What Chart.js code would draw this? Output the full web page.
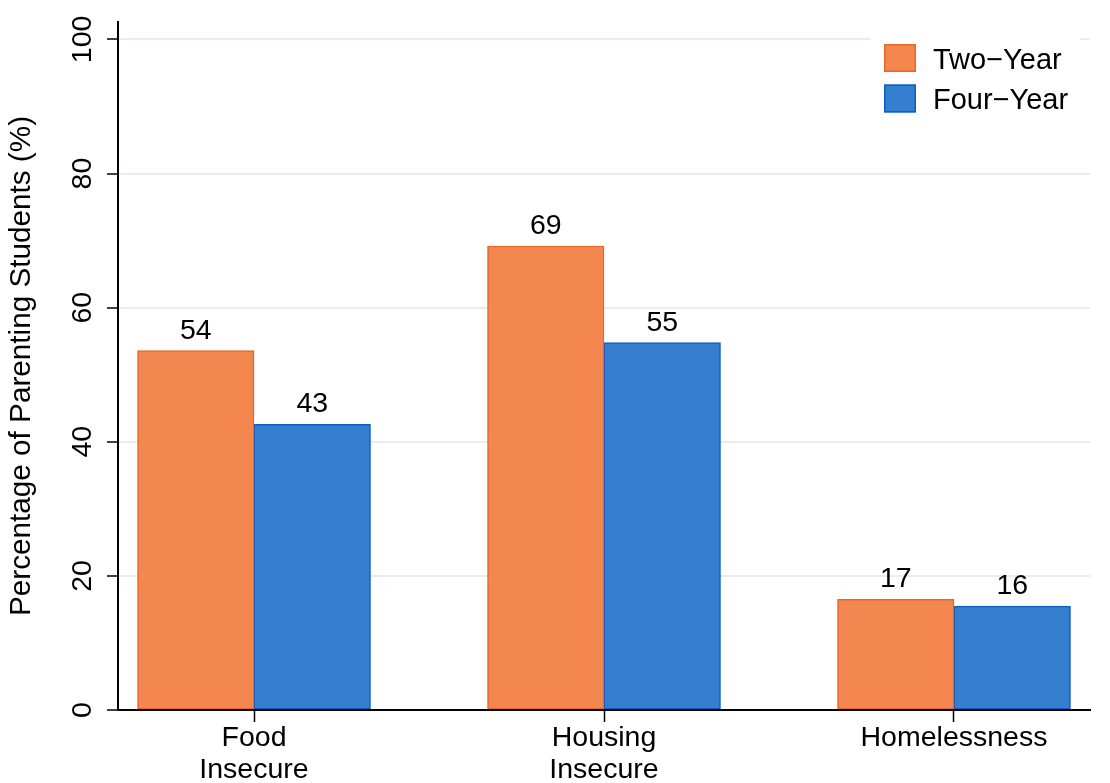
<!DOCTYPE html>
<html><head><meta charset="utf-8">
<script src="https://cdn.jsdelivr.net/npm/chart.js@4"></script>
<style>html,body{margin:0;padding:0;background:#fff}canvas{display:block}</style>
</head><body>
<canvas id="c" width="1110" height="783"></canvas>
<script>
const categories = [["Food", "Insecure"], ["Housing", "Insecure"], "Homelessness"];
const seriesNames = ["Two\u2212Year", "Four\u2212Year"];
const twoYear = [53.6, 69.2, 16.5];
const fourYear = [42.6, 54.8, 15.5];
const yTickValues = [0, 20, 40, 60, 80, 100];
const yTitle = "Percentage of Parenting Students (%)";

const FONT = '"Liberation Sans", Arial, Helvetica, sans-serif';
const orangeFill = '#f3874f', orangeLine = '#ec6525';
const blueFill = '#347fcf', blueLine = '#0d5ec4';
const gridColor = '#e4eef1';

const toXY = arr => arr.map((v, i) => ({x: i + 1, y: v}));

const yLabelPlugin = {
  id: 'yLabels',
  afterDraw(chart) {
    const s = chart.scales.y, ctx = chart.ctx;
    ctx.save();
    ctx.font = '28.5px ' + FONT;
    ctx.fillStyle = '#000';
    ctx.textAlign = 'center';
    ctx.textBaseline = 'alphabetic';
    s.ticks.forEach(t => {
      const py = s.getPixelForValue(t.value);
      ctx.save();
      ctx.translate(s.right - 27, py);
      ctx.rotate(-Math.PI / 2);
      ctx.fillText(String(t.value), 0, 0);
      ctx.restore();
    });
    ctx.restore();
  }
};

const valueLabelPlugin = {
  id: 'valueLabels',
  afterDatasetsDraw(chart) {
    const ctx = chart.ctx;
    ctx.save();
    ctx.font = '28.5px ' + FONT;
    ctx.fillStyle = '#000';
    ctx.textAlign = 'center';
    ctx.textBaseline = 'alphabetic';
    chart.data.datasets.forEach((ds, di) => {
      chart.getDatasetMeta(di).data.forEach((el, i) => {
        ctx.fillText(String(Math.round(ds.data[i].y)), el.x, el.y - 12);
      });
    });
    ctx.restore();
  }
};

const legendPlugin = {
  id: 'boxLegend',
  afterDraw(chart) {
    const ctx = chart.ctx, a = chart.chartArea;
    const bx = a.right - 219, by = a.top + 8, bw = 209, bh = 100;
    ctx.save();
    ctx.fillStyle = '#fff';
    ctx.fillRect(bx, by, bw, bh);
    ctx.font = '29px ' + FONT;
    ctx.textAlign = 'left';
    ctx.textBaseline = 'alphabetic';
    chart.data.datasets.forEach((ds, i) => {
      const sy = a.top + 22 + i * 40.5;
      ctx.fillStyle = ds.backgroundColor;
      ctx.fillRect(bx + 13, sy, 32, 28);
      ctx.strokeStyle = ds.borderColor;
      ctx.lineWidth = 1.5;
      ctx.strokeRect(bx + 13.75, sy + 0.75, 30.5, 26.5);
      ctx.fillStyle = '#000';
      ctx.fillText(ds.label, bx + 62, sy + 24.5);
    });
    ctx.restore();
  }
};

new Chart(document.getElementById('c'), {
  type: 'bar',
  data: {
    datasets: [
      {label: seriesNames[0], data: toXY(twoYear), backgroundColor: orangeFill, borderColor: orangeLine, borderWidth: 1.5, borderSkipped: false, barThickness: 116.5},
      {label: seriesNames[1], data: toXY(fourYear), backgroundColor: blueFill, borderColor: blueLine, borderWidth: 1.5, borderSkipped: false, barThickness: 116.5}
    ]
  },
  options: {
    responsive: false,
    animation: false,
    layout: {padding: {top: 22, right: 20, left: 0, bottom: 0}},
    plugins: {legend: {display: false}, tooltip: {enabled: false}},
    scales: {
      x: {
        type: 'linear',
        offset: false,
        min: 0.6114,
        max: 3.3886,
        afterBuildTicks: s => { s.ticks = categories.map((c, i) => ({value: i + 1})); },
        afterFit: s => { s.height = 73; },
        grid: {offset: false, drawOnChartArea: false, drawTicks: true, tickLength: 12, tickColor: '#000', tickWidth: 1.5},
        border: {display: true, color: '#000', width: 2},
        ticks: {
          autoSkip: false, maxRotation: 0, minRotation: 0, padding: 0,
          color: '#000',
          font: {family: FONT, size: 28.5, lineHeight: '32px'},
          callback: v => categories[Math.round(v) - 1]
        }
      },
      y: {
        min: 0,
        max: 102.6,
        afterBuildTicks: s => { s.ticks = yTickValues.map(v => ({value: v})); },
        afterFit: s => { s.width = 118; },
        grid: {color: gridColor, lineWidth: 2, drawTicks: true, tickLength: 11, tickColor: '#000', tickWidth: 1.5},
        border: {display: true, color: '#000', width: 2},
        ticks: {display: false},
        title: {display: true, text: yTitle, color: '#000', font: {family: FONT, size: 29.7}, padding: {top: 4, bottom: 0}}
      }
    }
  },
  plugins: [yLabelPlugin, valueLabelPlugin, legendPlugin]
});
</script>
</body></html>
